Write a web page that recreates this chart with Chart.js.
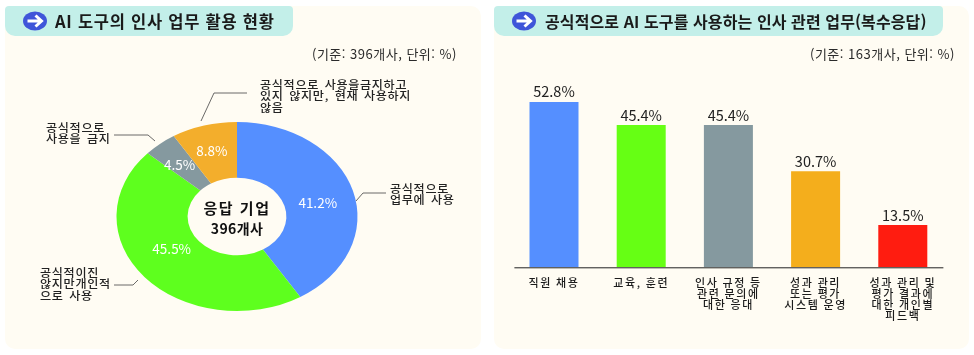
<!DOCTYPE html>
<html lang="ko">
<head>
<meta charset="utf-8">
<title>AI 도구의 인사 업무 활용</title>
<script src="https://cdn.jsdelivr.net/npm/chart.js@4"></script>
<style>
    html, body { margin: 0; padding: 0; background: #fff; }
    body { position: relative; width: 974px; height: 355px; overflow: hidden; font-family: "Noto Sans CJK KR", "Noto Sans", sans-serif; color: #222; }
    .panel { position: absolute; top: 6px; height: 343px; background: #fffcf3; border-radius: 10px; }
    .tab { position: absolute; top: 6px; height: 30px; background: #c3efe9; border-radius: 4px 4px 10px 10px; }
    .title { position: absolute; top: 6px; height: 30px; line-height: 30px; font-size: 16.5px; font-weight: 700; white-space: nowrap; color: #1a1a1a; }
    .basis { position: absolute; top: 45px; font-size: 13px; line-height: 18px; letter-spacing: 0.5px; white-space: nowrap; color: #2a2a2a; }
    .note { position: absolute; font-size: 11px; font-weight: 500; line-height: 11.3px; letter-spacing: 0.6px; word-spacing: 1.5px; white-space: pre; color: #222; transform: scaleX(1.1); transform-origin: left top; }
    .center { position: absolute; left: 177px; width: 120px; text-align: center; font-weight: 700; color: #111; white-space: nowrap; }
    canvas { position: absolute; }
    svg { position: absolute; left: 0; top: 0; }
</style>
</head>
<body>
<div class="panel" style="left:5px;width:476px"></div>
<div class="panel" style="left:494px;width:475px"></div>
<div class="tab" style="left:5px;width:288px"></div>
<div class="tab" style="left:494px;width:449px"></div>

<canvas id="pieChart"></canvas>
<canvas id="barChart"></canvas>

<svg width="974" height="355">
    <ellipse cx="35" cy="21" rx="12" ry="9.5" fill="#3f55d9"/>
    <path d="M27.5 21 H41 M35.5 15.5 L41.5 21 L35.5 26.5" fill="none" stroke="#fff" stroke-width="3"/>
    <ellipse cx="524" cy="21" rx="12" ry="9.5" fill="#3f55d9"/>
    <path d="M516.5 21 H530 M524.5 15.5 L530.5 21 L524.5 26.5" fill="none" stroke="#fff" stroke-width="3"/>
    <g fill="none" stroke="#444" stroke-width="0.8">
        <polyline points="201,121 214,93 247,93"/>
        <polyline points="114,135 148,135 155,141"/>
        <polyline points="356,201 363,193 386,193"/>
        <polyline points="114,285 133,285 138,280"/>
    </g>
</svg>

<div class="title" style="left:55px;letter-spacing:0.75px">AI 도구의 인사 업무 활용 현황</div>
<div class="title" style="left:545px;font-size:16px;letter-spacing:0.1px">공식적으로 AI 도구를 사용하는 인사 관련 업무(복수응답)</div>
<div class="basis" style="left:312px">(기준: 396개사, 단위: %)</div>
<div class="basis" style="left:810px">(기준: 163개사, 단위: %)</div>

<div class="note" style="left:260px;top:79px">공식적으로 사용을금지하고
있지 않지만, 현재 사용하지
않음</div>
<div class="note" style="left:46px;top:122px">공식적으로
사용을 금지</div>
<div class="note" style="left:390px;top:183px">공식적으로
업무에 사용</div>
<div class="note" style="left:40px;top:267px">공식적이진
않지만개인적
으로 사용</div>

<div class="center" style="top:197px;font-size:15px;line-height:22px;letter-spacing:1.5px">응답 기업</div>
<div class="center" style="top:218px;font-size:14px;line-height:20px;letter-spacing:0.4px">396개사</div>

<script>
// left chart
const pieLabels = ['공식적으로 업무에 사용', '공식적이진 않지만개인적으로 사용', '공식적으로 사용을 금지', '공식적으로 사용을금지하고 있지 않지만, 현재 사용하지 않음'];
const pieValues = [41.2, 45.5, 4.5, 8.8];
const pieColors = ['#558fff', '#5eff1e', '#85999f', '#f3ae2c'];

// right chart
const barLabels = [
    ['직원 채용'],
    ['교육, 훈련'],
    ['인사 규정 등', '관련 문의에', '대한 응대'],
    ['성과 관리', '또는 평가', '시스템 운영'],
    ['성과 관리 및', '평가 결과에', '대한 개인별', '피드백']
];
const barValues = [52.8, 45.4, 45.4, 30.7, 13.5];
const barColors = ['#558fff', '#66ff14', '#85999f', '#f4ae1c', '#ff1c10'];

const FONT = '"Noto Sans CJK KR", "Noto Sans", sans-serif';
const PIE_SQUASH = 0.784; // the source doughnut is an ellipse
// percent labels don't sit exactly on the arc middles in the source
const pieLabelShift = [[-1, 5], [0, -10], [-3, 0], [-2, -2]];

// squash the doughnut vertically around its centre
const squashPlugin = {
    id: 'squash',
    beforeDatasetsDraw(chart) {
        const arc = chart.getDatasetMeta(0).data[0];
        chart.ctx.save();
        chart.ctx.translate(0, arc.y);
        chart.ctx.scale(1, PIE_SQUASH);
        chart.ctx.translate(0, -arc.y);
    },
    afterDatasetsDraw(chart) {
        chart.ctx.restore();
        const ctx = chart.ctx;
        ctx.save();
        ctx.font = '13.5px ' + FONT;
        ctx.fillStyle = '#fff';
        ctx.textAlign = 'center';
        ctx.textBaseline = 'middle';
        chart.getDatasetMeta(0).data.forEach(function(arc, i) {
            const pos = arc.getCenterPoint();
            const y = arc.y + (pos.y - arc.y) * PIE_SQUASH;
            ctx.fillText(pieValues[i].toFixed(1) + '%', pos.x + pieLabelShift[i][0], y + pieLabelShift[i][1]);
        });
        ctx.restore();
    }
};

// value labels and a baseline a little shorter than the category band
const barPlugin = {
    id: 'barExtras',
    beforeDraw(chart) {
        // wider tick text, the source hangul is stretched
        chart.ctx.letterSpacing = '1.6px';
    },
    afterDatasetsDraw(chart) {
        const ctx = chart.ctx;
        const area = chart.chartArea;
        ctx.letterSpacing = '0px';
        ctx.save();
        ctx.strokeStyle = '#222';
        ctx.lineWidth = 1;
        ctx.beginPath();
        ctx.moveTo(area.left + 4, area.bottom + 0.5);
        ctx.lineTo(area.right - 3, area.bottom + 0.5);
        ctx.stroke();
        ctx.font = '14.5px ' + FONT;
        ctx.fillStyle = '#222';
        ctx.textAlign = 'center';
        ctx.textBaseline = 'middle';
        chart.getDatasetMeta(0).data.forEach(function(bar, i) {
            ctx.fillText(barValues[i].toFixed(1) + '%', bar.x, bar.y - 10);
        });
        ctx.restore();
    }
};

function place(canvas, left, top, width, height) {
    canvas.width = width;
    canvas.height = height;
    canvas.style.left = left + 'px';
    canvas.style.top = top + 'px';
}

const pieCanvas = document.getElementById('pieChart');
place(pieCanvas, 5, 96, 464, 241);
new Chart(pieCanvas, {
    type: 'doughnut',
    data: {
        labels: pieLabels,
        datasets: [{
            data: pieValues,
            backgroundColor: pieColors,
            borderWidth: 0
        }]
    },
    options: {
        responsive: false,
        animation: false,
        cutout: '41%',
        plugins: {
            legend: { display: false },
            tooltip: { enabled: false }
        }
    },
    plugins: [squashPlugin]
});

const barCanvas = document.getElementById('barChart');
place(barCanvas, 500, 70, 460, 262);
new Chart(barCanvas, {
    type: 'bar',
    data: {
        labels: barLabels,
        datasets: [{
            data: barValues,
            backgroundColor: barColors,
            borderWidth: 0,
            barPercentage: 0.562,
            categoryPercentage: 1
        }]
    },
    options: {
        responsive: false,
        animation: false,
        layout: { padding: { left: 10.4, right: 13.6, top: 0, bottom: 0 } },
        plugins: {
            legend: { display: false },
            tooltip: { enabled: false }
        },
        scales: {
            x: {
                grid: { display: false, drawTicks: false },
                border: { display: false },
                afterFit(scale) { scale.height = 64.7; },
                ticks: {
                    autoSkip: false,
                    maxRotation: 0,
                    padding: 10,
                    color: '#1c1c1c',
                    font: { family: FONT, size: 11, weight: '500', lineHeight: 1 }
                }
            },
            y: {
                display: false,
                min: 0,
                max: 63
            }
        }
    },
    plugins: [barPlugin]
});
</script>
</body>
</html>
